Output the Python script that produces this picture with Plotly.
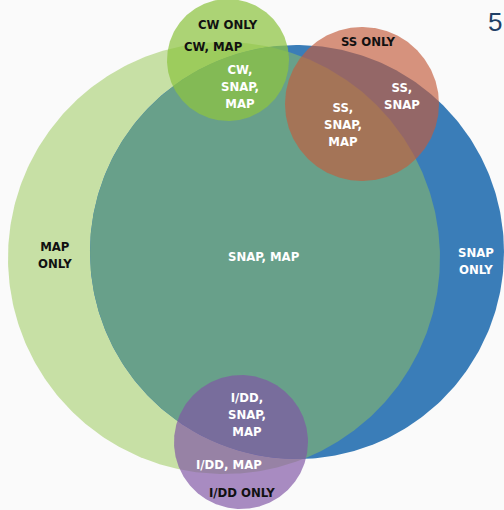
import numpy as np
import plotly.graph_objects as go

# Circles (sets): name, center x, center y, radius (pixel-like units)
set_names = ["MAP", "SNAP", "CW", "SS", "I/DD"]
center_x = [224, 297, 228, 362, 241]
center_y = [258, 252, 60, 104, 442]
radius = [216, 207, 61, 77, 67]

# Region labels
labels = ["CW ONLY", "CW, MAP", "CW,<br>SNAP,<br>MAP", "SS ONLY", "SS,<br>SNAP",
          "SS,<br>SNAP,<br>MAP", "MAP<br>ONLY", "SNAP, MAP", "SNAP<br>ONLY",
          "I/DD,<br>SNAP,<br>MAP", "I/DD, MAP", "I/DD ONLY"]
label_x = [228, 213, 240, 368, 402, 343, 55, 264, 476, 247, 229, 242]
label_y = [24, 46, 86, 41, 96, 124, 255, 256, 261, 414, 464, 492]
label_color = ["#111111", "#111111", "white", "#111111", "white", "white",
               "#111111", "white", "white", "white", "white", "#111111"]

W, H = 504, 510
FONT = "Liberation Sans Narrow, DejaVu Sans Condensed, Arial Narrow, sans-serif"

fig = go.Figure()

def circle_pts(cx, cy, r, n=400):
    t = np.linspace(0, 2 * np.pi, n)
    return cx + r * np.cos(t), cy + r * np.sin(t)

x, y = circle_pts(center_x[0], center_y[0], radius[0])
fig.add_trace(go.Scatter(x=x, y=y, fill="toself", fillcolor="#c7e0a5",
                         line=dict(width=0), mode="lines", hoverinfo="skip"))
x, y = circle_pts(center_x[1], center_y[1], radius[1])
fig.add_trace(go.Scatter(x=x, y=y, fill="toself", fillcolor="#3a7db8",
                         line=dict(width=0), mode="lines", hoverinfo="skip"))

def lens(c1, c2, n=600):
    x1, y1, r1 = c1
    x2, y2, r2 = c2
    t = np.linspace(0, 2 * np.pi, n)
    ax, ay = x1 + r1 * np.cos(t), y1 + r1 * np.sin(t)
    bx, by = x2 + r2 * np.cos(t), y2 + r2 * np.sin(t)
    ina = (ax - x2) ** 2 + (ay - y2) ** 2 <= r2 ** 2
    inb = (bx - x1) ** 2 + (by - y1) ** 2 <= r1 ** 2
    pts = np.vstack([np.stack([ax[ina], ay[ina]], 1), np.stack([bx[inb], by[inb]], 1)])
    cx, cy = pts[:, 0].mean(), pts[:, 1].mean()
    pts = pts[np.argsort(np.arctan2(pts[:, 1] - cy, pts[:, 0] - cx))]
    return np.append(pts[:, 0], pts[0, 0]), np.append(pts[:, 1], pts[0, 1])

lx, ly = lens((center_x[0], center_y[0], radius[0]), (center_x[1], center_y[1], radius[1]))
fig.add_trace(go.Scatter(x=lx, y=ly, fill="toself", fillcolor="#68a08a",
                         line=dict(width=0), mode="lines", hoverinfo="skip"))

small_colors = ["rgba(142,195,65,0.72)", "rgba(196,92,60,0.66)", "rgba(128,86,165,0.68)"]
for i, col in zip([2, 3, 4], small_colors):
    x, y = circle_pts(center_x[i], center_y[i], radius[i])
    fig.add_trace(go.Scatter(x=x, y=y, fill="toself", fillcolor=col,
                             line=dict(width=0), mode="lines", hoverinfo="skip"))

for t, xx, yy, c in zip(labels, label_x, label_y, label_color):
    fig.add_annotation(x=xx, y=yy, text="<b>" + t + "</b>", showarrow=False,
                       font=dict(family=FONT, size=13, color=c),
                       xanchor="center", yanchor="middle", align="center")

fig.add_annotation(x=495, y=22, text="5", showarrow=False, xanchor="center", yanchor="middle",
                   font=dict(family="Liberation Sans, Arial, sans-serif", size=26, color="#1f3f66"))

fig.update_layout(
    width=W, height=H, margin=dict(l=0, r=0, t=0, b=0),
    paper_bgcolor="#fafafa", plot_bgcolor="#fafafa", showlegend=False,
    xaxis=dict(range=[0, W], visible=False, fixedrange=True),
    yaxis=dict(range=[H, 0], visible=False, fixedrange=True),
)
fig.write_html("out.html", config={"displayModeBar": False},
               post_script="document.body.style.margin='0';document.body.style.overflow='hidden';")
